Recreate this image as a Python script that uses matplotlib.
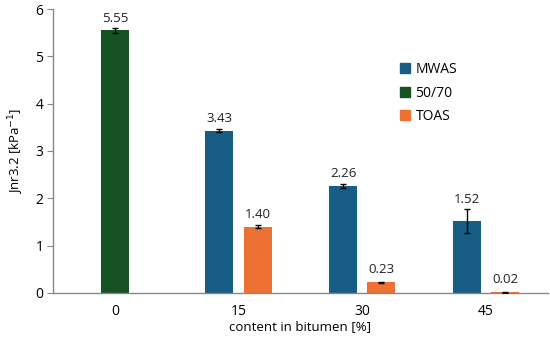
import matplotlib
matplotlib.use("Agg")
import matplotlib.pyplot as plt
import numpy as np
from matplotlib.patches import Patch

plt.rcParams['font.family'] = ['Open Sans', 'DejaVu Sans']

categories = ["0", "15", "30", "45"]
series = ["MWAS", "50/70", "TOAS"]
mwas = [None, 3.43, 2.26, 1.52]
mwas_err = [None, 0.03, 0.04, 0.25]
base = [5.55, None, None, None]
base_err = [0.05, None, None, None]
toas = [None, 1.40, 0.23, 0.02]
toas_err = [None, 0.03, 0.01, 0.01]
colors = {"MWAS": "#175d84", "50/70": "#165222", "TOAS": "#ec7133"}

fig = plt.figure(figsize=(5.5, 3.41), dpi=100)
ax = fig.add_axes([0.0964, 0.1408, 0.8996, 0.8328])

x = np.arange(len(categories))
w = 0.226
off = 0.155

def draw(vals, errs, offset, color):
    for xi, v, e in zip(x, vals, errs):
        if v is None:
            continue
        ax.bar(xi + offset, v, w, color=color, zorder=2)
        ax.errorbar(xi + offset, v, yerr=e, fmt='none', ecolor='black',
                    elinewidth=1, capsize=2, capthick=1, zorder=3)
        ax.text(xi + offset, v + max(e, 0.05) + 0.07, f"{v:.2f}",
                ha='center', va='bottom', fontsize=9.5, color='#222222')

draw(mwas, mwas_err, -off, colors["MWAS"])
draw(base, base_err, 0.0, colors["50/70"])
draw(toas, toas_err, off, colors["TOAS"])

ax.set_xlim(-0.5, 3.5)
ax.set_ylim(0, 6)
ax.set_xticks(x)
ax.set_xticklabels(categories, fontsize=10)
ax.set_yticks(range(0, 7))
ax.tick_params(axis='x', length=0, pad=8)
ax.tick_params(axis='y', length=4, color='#888888', labelsize=10, pad=3)
for s in ['top', 'right']:
    ax.spines[s].set_visible(False)
for s in ['left', 'bottom']:
    ax.spines[s].set_color('#888888')
    ax.spines[s].set_linewidth(1)

ax.set_xlabel("content in bitumen [%]", fontsize=9.5, labelpad=1)
ax.set_ylabel("Jnr3.2 [kPa$^{-1}$]", fontsize=9.5, labelpad=7)

handles = [Patch(color=colors[s]) for s in series]
fig.legend(handles, series, loc='upper left', bbox_to_anchor=(0.705, 0.855),
           frameon=False, fontsize=10, handlelength=0.7, handleheight=0.7,
           handletextpad=0.4, labelspacing=0.62)

fig.savefig("out.png", dpi=100)
